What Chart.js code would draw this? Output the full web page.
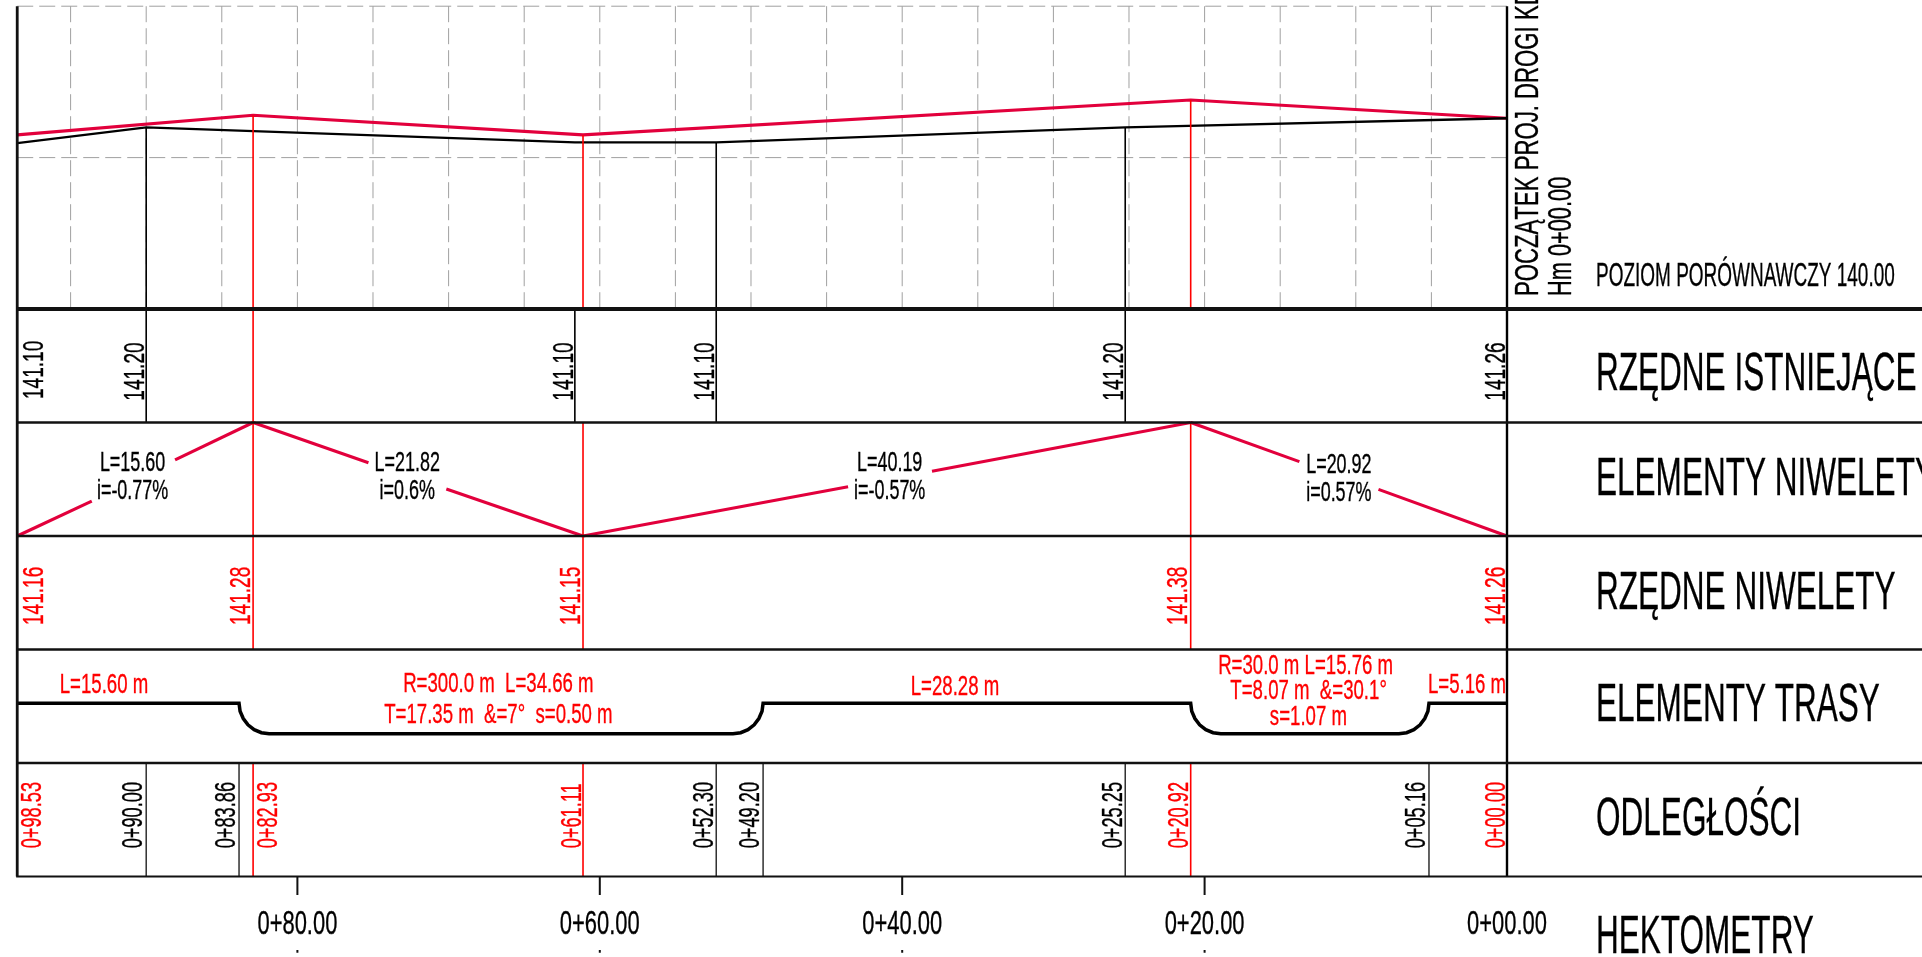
<!DOCTYPE html>
<html lang="pl">
<head>
<meta charset="utf-8">
<title>Profil podłużny</title>
<script src="https://cdn.jsdelivr.net/npm/chart.js@4"></script>
<style>
html,body{margin:0;padding:0;background:#fff;overflow:hidden}
canvas{display:block}
</style>
</head>
<body>
<canvas id="c" width="1922" height="957"></canvas>
<script>
// ---- values ----
const designStations = [98.53, 82.93, 61.11, 20.92, 0];
const designLevels = [141.15, 141.28, 141.15, 141.38, 141.26];
const designLabels = ['141.16', '141.28', '141.15', '141.38', '141.26'];
const groundStations = [98.53, 90, 61.65, 52.30, 25.25, 0];
const groundLevels = [141.095, 141.20, 141.10, 141.10, 141.20, 141.26];
const groundLabels = ['141.10', '141.20', '141.10', '141.10', '141.20', '141.26'];
const distanceStations = [98.53, 90, 83.86, 82.93, 61.11, 52.30, 49.20, 25.25, 20.92, 5.16, 0];
const distanceLabels = ['0+98.53', '0+90.00', '0+83.86', '0+82.93', '0+61.11', '0+52.30', '0+49.20', '0+25.25', '0+20.92', '0+05.16', '0+00.00'];
const distanceIsDesign = [1, 0, 0, 1, 1, 0, 0, 0, 1, 0, 1];
const hectoStations = [80, 60, 40, 20, 0];
const hectoLabels = ['0+80.00', '0+60.00', '0+40.00', '0+20.00', '0+00.00'];
const gridStations = [95, 90, 85, 80, 75, 70, 65, 60, 55, 50, 45, 40, 35, 30, 25, 20, 15, 10, 5];
const gridLevels = [141, 142];
// grade row (row units 1 = top, 2 = bottom), broken where the labels sit
const gradeRun1S = [98.53, 93.6];   const gradeRun1R = [2, 1.693];
const gradeRun2S = [88.09, 82.93];  const gradeRun2R = [1.33, 1];
const gradeRun3S = [82.93, 75.3];   const gradeRun3R = [1, 1.354];
const gradeRun4S = [70.15, 61.11];  const gradeRun4R = [1.586, 2];
const gradeRun5S = [61.11, 43.58];  const gradeRun5R = [2, 1.566];
const gradeRun6S = [38.03, 20.92];  const gradeRun6R = [1.43, 1];
const gradeRun7S = [20.92, 13.73];  const gradeRun7R = [1, 1.345];
const gradeRun8S = [8.5, 0];        const gradeRun8R = [1.589, 2];
const gradeTextStations = [90.9, 72.74, 40.83, 11.12];
const gradeTextL = ['L=15.60', 'L=21.82', 'L=40.19', 'L=20.92'];
const gradeTextI = ['i=-0.77%', 'i=0.6%', 'i=-0.57%', 'i=0.57%'];
// alignment diagram
const traceStations = [98.53, 83.86, 83.79, 83.58, 83.27, 82.86, 82.38, 81.87,
  51.19, 50.68, 50.20, 49.79, 49.48, 49.27, 49.20,
  20.92, 20.85, 20.64, 20.33, 19.92, 19.44, 18.93,
  7.15, 6.64, 6.16, 5.75, 5.44, 5.23, 5.16, 0];
const traceRows = [3.474, 3.474, 3.544, 3.608, 3.664, 3.706, 3.733, 3.742,
  3.742, 3.733, 3.706, 3.664, 3.608, 3.544, 3.474,
  3.474, 3.544, 3.608, 3.664, 3.706, 3.733, 3.742,
  3.742, 3.733, 3.706, 3.664, 3.608, 3.544, 3.474, 3.474];
const rowTitles = ['RZĘDNE ISTNIEJĄCE', 'ELEMENTY NIWELETY', 'RZĘDNE NIWELETY', 'ELEMENTY TRASY', 'ODLEGŁOŚCI', 'HEKTOMETRY'];
const groundDropStations = [90, 52.30, 25.25];
const groundDropLevels = [141.20, 141.10, 141.20];
const rowRules = [0, 1, 2, 3, 4, 5];

// ---- styling ----
const CRIMSON = '#e2003c', RED = '#ff0000', BLACK = '#000000', GRID = '#a0a0a0';
const FONT = '"Liberation Sans", Arial, sans-serif';
const X_RIGHT_END = -27.447;

function run(xs, ys, axis, color, width, dash) {
  return {
    data: xs.map((x, i) => ({ x, y: ys[i] })),
    yAxisID: axis, borderColor: color, borderWidth: width, borderDash: dash || [],
    pointRadius: 0, showLine: true, fill: false, tension: 0, order: color === GRID ? 5 : 1
  };
}
const sets = [];
// grid
gridStations.forEach(s => sets.push(run([s, s], [142, 140], 'elev', GRID, 1, [16, 6])));
gridLevels.forEach(l => sets.push(run([98.53, 0], [l, l], 'elev', GRID, 1, [16, 6])));
// table rules
rowRules.forEach(r => sets.push(run([98.6, X_RIGHT_END], [r, r], 'row', '#111', r === 0 ? 4 : (r === 5 ? 2 : 2.4))));
sets.push(run([98.53, 98.53], [142, 140], 'elev', '#111', 2.8));
sets.push(run([98.53, 98.53], [0, 5], 'row', '#111', 2.8));
sets.push(run([0, 0], [142, 140], 'elev', BLACK, 2.4));
sets.push(run([0, 0], [0, 5], 'row', BLACK, 2.4));
// black verticals
groundDropStations.forEach((s, i) => sets.push(run([s, s], [groundDropLevels[i], 140], 'elev', BLACK, 1.6)));
groundStations.slice(1, -1).forEach(s => sets.push(run([s, s], [0, 1], 'row', BLACK, 1.6)));
distanceStations.forEach((s, i) => {
  if (!distanceIsDesign[i] && s !== 0) sets.push(run([s, s], [4, 5], 'row', '#222', 1.4));
});
// red verticals
[1, 2, 3].forEach(i => {
  const s = designStations[i];
  sets.push(run([s, s], [designLevels[i], 140], 'elev', RED, 1.6));
  sets.push(run([s, s], [i === 1 ? 0 : 1, 3], 'row', RED, 1.6));
  sets.push(run([s, s], [4, 5], 'row', RED, 1.6));
});
// profile lines
sets.push(run(groundStations, groundLevels, 'elev', BLACK, 2.3));
sets.push(run(designStations, designLevels, 'elev', CRIMSON, 3.1));
// grade zig-zag
[[gradeRun1S, gradeRun1R], [gradeRun2S, gradeRun2R], [gradeRun3S, gradeRun3R], [gradeRun4S, gradeRun4R],
 [gradeRun5S, gradeRun5R], [gradeRun6S, gradeRun6R], [gradeRun7S, gradeRun7R], [gradeRun8S, gradeRun8R]]
  .forEach(p => sets.push(run(p[0], p[1], 'row', CRIMSON, 3.1)));
// alignment
sets.push(run(traceStations, traceRows, 'row', BLACK, 3.5));
// hectometre ticks and the marks under the labels
hectoStations.slice(0, -1).forEach(s => {
  sets.push(run([s, s], [5, 5.163], 'row', '#111', 2));
  sets.push(run([s, s], [5.648, 5.672], 'row', '#111', 2));
});

function put(ctx, txt, x, y, size, sx, color, align, rot) {
  ctx.save();
  ctx.translate(x, y);
  if (rot) ctx.rotate(-Math.PI / 2);
  ctx.scale(sx, 1);
  ctx.font = size + 'px ' + FONT;
  ctx.fillStyle = color;
  ctx.strokeStyle = color;
  ctx.lineWidth = 0.35;
  ctx.textAlign = align || 'left';
  ctx.textBaseline = 'alphabetic';
  ctx.fillText(txt, 0, 0);
  ctx.strokeText(txt, 0, 0);
  ctx.restore();
}

const textPlugin = {
  id: 'profileText',
  afterDatasetsDraw(chart) {
    const ctx = chart.ctx, X = chart.scales.x;
    const px = s => X.getPixelForValue(s);
    // row titles
    const titleBase = [390, 495, 609.3, 720.7, 835, 952.7];
    rowTitles.forEach((t, i) => put(ctx, t, 1596, titleBase[i], 54, 0.584, BLACK));
    put(ctx, 'POZIOM PORÓWNAWCZY 140.00', 1596, 286, 32.5, 0.584, BLACK);
    put(ctx, 'POCZĄTEK PROJ. DROGI KD', 1538, 296, 34, 0.652, BLACK, 'left', true);
    put(ctx, 'Hm 0+00.00', 1571.4, 296, 33, 0.66, BLACK, 'left', true);
    // existing levels
    groundStations.forEach((s, i) => {
      const edge = i === 0 ? px(s) + 25.5 : px(s) - 2;
      put(ctx, groundLabels[i], edge, i === 0 ? 399 : 400.7, 29, 0.657, BLACK, 'left', true);
    });
    // design levels
    designStations.forEach((s, i) => {
      const edge = i === 0 ? px(s) + 25.5 : (s === 0 ? px(s) - 2 : px(s) - 3.5);
      put(ctx, designLabels[i], edge, 625, 29, 0.657, RED, 'left', true);
    });
    // distances
    distanceStations.forEach((s, i) => {
      let edge = px(s) - 2.5;
      if (i === 0 || i === 3) edge = px(s) + 23.5;
      else if (!distanceIsDesign[i]) edge = px(s) - 3.7;
      put(ctx, distanceLabels[i], edge, 848.3, 29, 0.628, distanceIsDesign[i] ? RED : BLACK, 'left', true);
    });
    // hectometres
    hectoStations.forEach((s, i) => put(ctx, hectoLabels[i], px(s), 934, 33, 0.665, BLACK, 'center'));
    // grade labels
    gradeTextStations.forEach((s, i) => {
      const d = i === 3 ? 1.8 : 0;
      put(ctx, gradeTextL[i], px(s), 470.7 + d, 27, 0.665, BLACK, 'center');
      put(ctx, gradeTextI[i], px(s), 498.7 + d, 27, 0.665, BLACK, 'center');
    });
    // alignment labels
    const red = (t, c, b) => put(ctx, t, c, b, 28, 0.665, RED, 'center');
    red('L=15.60 m', 104, 693);
    red('R=300.0 m  L=34.66 m', 498.4, 692);
    red('T=17.35 m  &=7°  s=0.50 m', 498.4, 723);
    red('L=28.28 m', 955, 695);
    red('R=30.0 m L=15.76 m', 1305.6, 674.3);
    red('T=8.07 m  &=30.1°', 1308.6, 699.3);
    red('s=1.07 m', 1308.4, 725.3);
    red('L=5.16 m', 1467, 693.3);
  }
};

new Chart(document.getElementById('c'), {
  type: 'scatter',
  data: { datasets: sets },
  options: {
    responsive: false, animation: false, devicePixelRatio: 1,
    layout: { padding: 0 },
    events: [],
    plugins: { legend: { display: false }, title: { display: false }, tooltip: { enabled: false } },
    scales: {
      x: { type: 'linear', reverse: true, min: X_RIGHT_END, max: 99.669, display: false },
      elev: { type: 'linear', position: 'left', min: 135.72, max: 142.041, display: false },
      row: { type: 'linear', position: 'right', reverse: true, min: -2.7225, max: 5.7093, display: false }
    }
  },
  plugins: [textPlugin]
});
</script>
</body>
</html>
